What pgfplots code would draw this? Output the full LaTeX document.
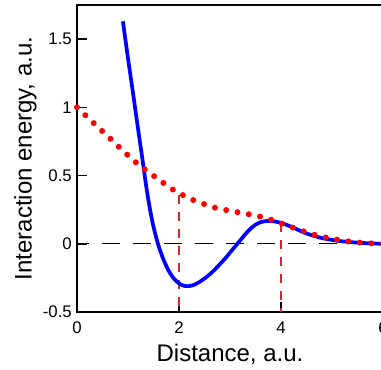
\documentclass[border=0pt]{standalone}
\usepackage{fontspec}
\setmainfont{Liberation Sans}
\usepackage{pgfplots}
\pgfplotsset{compat=1.18}
\definecolor{vline}{RGB}{210,40,40}
\begin{document}
\begin{tikzpicture}
\begin{axis}[
  scale only axis,
  width=306pt, height=307pt,
  xmin=0, xmax=6, ymin=-0.5, ymax=1.75,
  clip=false,
  axis line style={line width=1.8pt, black},
  xtick={0,2,4,6}, xticklabels={0,2,4,6},
  ytick={-0.5,0,0.5,1,1.5}, yticklabels={-0.5,0,0.5,1,1.5},
  tick align=inside,
  major tick length=10pt,
  tick style={line width=1.5pt, black},
  xtick pos=bottom, ytick pos=left,
  ticklabel style={font=\fontsize{16.8}{18}\selectfont},
  xticklabel style={inner sep=0pt, anchor=north, yshift=-9.5pt},
  yticklabel style={inner sep=0pt, anchor=east, xshift=-5pt},
  xlabel={Distance, a.u.},
  ylabel={Interaction energy, a.u.},
  label style={font=\fontsize{24}{28}\selectfont},
  xlabel style={at={(axis description cs:0.5,-0.162)}, anchor=base},
  ylabel style={at={(axis description cs:-0.148,0.5)}, anchor=base, rotate=0},
]
% zero line
\addplot[black, line width=1.3pt, dash pattern=on 18pt off 13pt, dash phase=6.3pt] coordinates {(0,0) (6,0)};
% vertical markers
\addplot[vline, line width=1.2pt, dash pattern=on 9pt off 8pt] coordinates {(2,0.355) (2,-0.5)};
\addplot[vline, line width=1.2pt, dash pattern=on 9pt off 8pt] coordinates {(4,0.153) (4,-0.5)};
% blue curve
\addplot[blue, line width=3.7pt, smooth] coordinates {
(0.90,1.63) (1.00,1.36) (1.10,1.10) (1.20,0.835) (1.30,0.575) (1.35,0.44)
(1.40,0.32) (1.45,0.215) (1.50,0.125) (1.55,0.05) (1.60,-0.015) (1.65,-0.07)
(1.70,-0.12) (1.80,-0.20) (1.90,-0.255) (2.00,-0.29) (2.10,-0.308) (2.20,-0.31)
(2.30,-0.30) (2.40,-0.28) (2.50,-0.255) (2.60,-0.225) (2.70,-0.19) (2.80,-0.15)
(2.90,-0.11) (3.00,-0.065) (3.10,-0.02) (3.20,0.025) (3.30,0.07) (3.40,0.11)
(3.50,0.14) (3.60,0.158) (3.70,0.166) (3.80,0.167) (3.90,0.162) (4.00,0.153)
(4.10,0.140) (4.20,0.125) (4.30,0.108) (4.40,0.091) (4.50,0.076) (4.60,0.063)
(4.70,0.052) (4.80,0.042) (5.00,0.028) (5.20,0.018) (5.40,0.011) (5.60,0.006)
(5.80,0.002) (6.00,0.0)
};
% red dotted curve
\addplot[red, line width=6pt, line cap=round, dash pattern=on 0pt off 11.5pt] coordinates {
(0,1.0) (0.32,0.887) (0.65,0.772) (0.94,0.668) (1.12,0.607) (1.30,0.553)
(1.48,0.504) (1.66,0.455) (1.84,0.406) (2.03,0.366) (2.22,0.329) (2.43,0.300)
(2.64,0.270) (2.86,0.252) (3.06,0.237) (3.27,0.224) (3.50,0.207) (3.71,0.190)
(3.92,0.160) (4.11,0.136) (4.34,0.104) (4.54,0.079) (4.76,0.055) (4.99,0.038)
(5.19,0.024) (5.42,0.013) (5.65,0.006) (5.88,0.001) (6.0,0.0)
};
\end{axis}
\pgfresetboundingbox
\useasboundingbox ([xshift=-77pt,yshift=-57pt]current axis.south west) rectangle ([xshift=-2pt,yshift=5pt]current axis.north east);
\end{tikzpicture}
\end{document}
